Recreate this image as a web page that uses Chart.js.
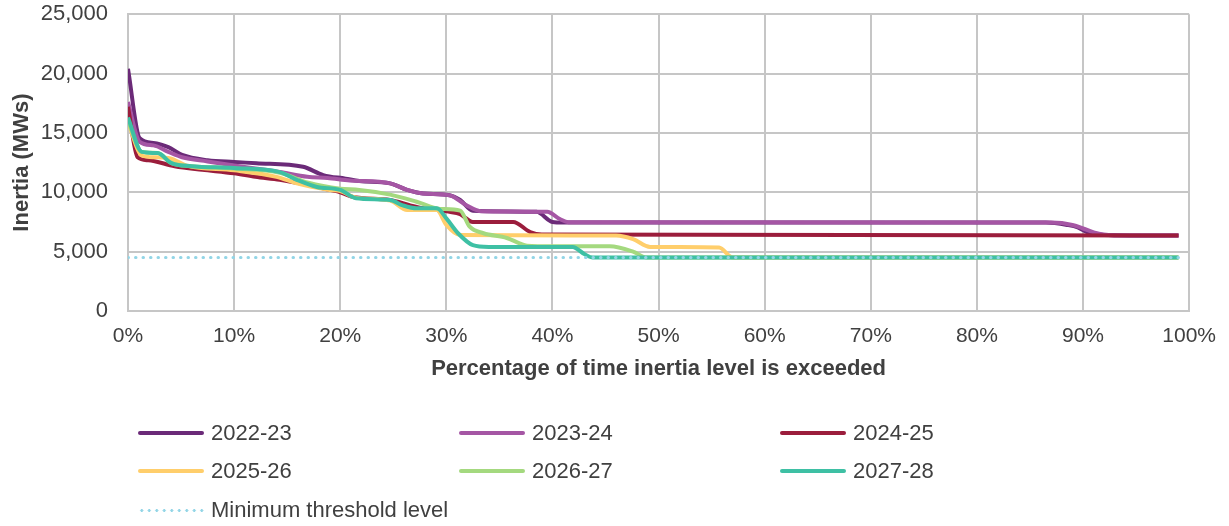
<!DOCTYPE html>
<html>
<head>
<meta charset="utf-8">
<script src="https://cdn.jsdelivr.net/npm/chart.js@4/dist/chart.umd.min.js"></script>
<style>
  body { margin: 0; background: #fff; font-family: "Liberation Sans", Arial, sans-serif; overflow: hidden; }
  #wrap { position: relative; width: 1229px; height: 526px; overflow: hidden; }
  #box { position: absolute; left: 0; top: -19px; width: 1229px; height: 401px; }
  #legend { position: absolute; left: 0; top: 0; width: 1229px; height: 526px; pointer-events: none; }
  .item { position: absolute; height: 26px; display: flex; align-items: center; color: #404040; font-size: 22px; }
  .swatch { width: 66px; height: 4px; border-radius: 2px; margin-right: 7px; }
</style>
</head>
<body>
<div id="wrap">
  <div id="box"><canvas id="inertia"></canvas></div>
  <div id="legend"></div>
</div>
<script>
// values: percentage of time (x) and inertia in MWs (y)
const pct2223 = [0, 1.1, 2.4, 3.8, 5.1, 7.5, 10, 12.1, 16.5, 18.4, 20.5, 21.8, 24.7, 26.3, 27.8, 30.3, 31.3, 32.5, 38.5, 40, 41, 86.5, 88.5, 89.5, 90.5, 92, 99];
const mws2223 = [20400, 14550, 14150, 13800, 13150, 12700, 12550, 12450, 12150, 11450, 11150, 10950, 10750, 10200, 9900, 9750, 9350, 8450, 8350, 7500, 7450, 7450, 7250, 7050, 6600, 6400, 6350];

const pct2324 = [0, 1.1, 2.4, 3.8, 5.1, 7.5, 10, 12, 14.3, 16.9, 18.8, 20.9, 24.7, 26.3, 27.8, 30.3, 31.9, 33.3, 39.5, 40.7, 41.5, 87, 89, 90, 91.5, 93.5, 99];
const mws2324 = [17600, 14250, 13950, 13400, 12950, 12600, 12250, 12000, 11700, 11300, 11200, 11000, 10750, 10200, 9900, 9750, 8900, 8400, 8350, 7750, 7480, 7450, 7250, 6950, 6500, 6350, 6350];

const pct2425 = [0, 0.9, 1.9, 4.4, 7, 10, 12, 14.3, 17, 19, 20, 21.2, 24.7, 26.6, 27.8, 30.3, 31.3, 32.5, 36.3, 37.9, 39, 99];
const mws2425 = [17200, 12950, 12700, 12200, 11900, 11600, 11300, 11050, 10600, 10200, 10000, 9600, 9350, 8900, 8650, 8350, 8150, 7500, 7500, 6650, 6450, 6350];

const pct2526 = [0, 1.3, 2.5, 4, 5.5, 10, 14, 15.9, 19, 20, 21.5, 24.7, 26.3, 29.1, 30, 31.3, 46, 47.6, 49.2, 55.7, 57, 99];
const mws2526 = [15900, 13100, 12950, 12850, 12250, 11850, 11300, 10750, 10200, 10100, 9550, 9300, 8500, 8500, 7250, 6400, 6350, 6050, 5400, 5350, 4500, 4500];

const pct2627 = [0, 1.3, 2.8, 4.1, 6, 10, 14.3, 17, 20, 21.8, 24.7, 27.2, 29.4, 31.3, 32.2, 33.5, 35.7, 36.9, 37.6, 40, 45.4, 47.6, 48.9, 99];
const mws2627 = [16000, 13400, 13300, 12450, 12200, 12000, 11650, 10800, 10300, 10200, 9800, 9200, 8600, 8450, 7100, 6550, 6150, 5700, 5500, 5450, 5450, 5000, 4500, 4500];

const pct2728 = [0, 1.3, 2.8, 4.1, 6, 10, 14.3, 15.9, 17.8, 20, 21.5, 24.7, 25.9, 27.2, 29.1, 30, 31.1, 32.5, 34, 41.9, 43, 43.8, 99];
const mws2728 = [16300, 13400, 13300, 12450, 12200, 12050, 11700, 11050, 10450, 10200, 9500, 9350, 8900, 8650, 8650, 7800, 6550, 5550, 5400, 5400, 4800, 4500, 4500];

const pctThreshold = [0, 99];
const mwsThreshold = [4500, 4500];

const seriesNames = ["2022-23", "2023-24", "2024-25", "2025-26", "2026-27", "2027-28", "Minimum threshold level"];
const seriesColors = ["#6b2a78", "#a556a4", "#9b1d3c", "#ffce6b", "#a4d97f", "#3ec0a4", "#92d5e6"];
const yTicks = [0, 5000, 10000, 15000, 20000, 25000];

const toPoints = (xs, ys) => xs.map((x, i) => ({ x: x, y: ys[i] }));

const pctLists = [pct2223, pct2324, pct2425, pct2526, pct2627, pct2728, pctThreshold];
const mwsLists = [mws2223, mws2324, mws2425, mws2526, mws2627, mws2728, mwsThreshold];

const datasets = seriesNames.map((name, i) => {
  const dotted = i === 6;
  return {
    label: name,
    data: toPoints(pctLists[i], mwsLists[i]),
    borderColor: seriesColors[i],
    backgroundColor: seriesColors[i],
    borderWidth: dotted ? 3 : 4,
    borderDash: dotted ? [0.5, 7] : [],
    borderCapStyle: dotted ? "round" : "butt",
    pointRadius: 0,
    cubicInterpolationMode: dotted ? "default" : "monotone",
    tension: 0,
    fill: false,
    // later series sit on top, the threshold on top of all
    order: dotted ? 0 : 7 - i,
  };
});

const ctx = document.getElementById("inertia").getContext("2d");
const inertiaChart = new Chart(ctx, {
  type: "line",
  data: { datasets: datasets },
  options: {
    responsive: true,
    maintainAspectRatio: false,
    animation: false,
    layout: { padding: { top: 0, right: 39, bottom: 0, left: 0 } },
    scales: {
      x: {
        type: "linear",
        min: 0,
        max: 100,
        afterFit: (scale) => { scale.height = 71; },
        ticks: {
          stepSize: 10,
          padding: 13,
          color: "#404040",
          font: { family: "'Liberation Sans', Arial", size: 21 },
          callback: (v) => v + "%",
        },
        grid: { color: "#c6c6c6", lineWidth: 2, drawTicks: false },
        border: { color: "#c6c6c6", width: 2 },
        title: {
          display: true,
          text: "Percentage of time inertia level is exceeded",
          color: "#404040",
          font: { family: "'Liberation Sans', Arial", size: 22, weight: "bold" },
          padding: { top: 0, bottom: 0 },
        },
      },
      y: {
        min: 0,
        max: 25000,
        afterFit: (scale) => { scale.width = 128; },
        afterBuildTicks: (scale) => { scale.ticks = yTicks.map((v) => ({ value: v })); },
        ticks: {
          padding: 20,
          color: "#404040",
          font: { family: "'Liberation Sans', Arial", size: 22 },
          callback: (v) => v.toLocaleString("en-US"),
        },
        grid: { color: "#c6c6c6", lineWidth: 2, drawTicks: false },
        border: { color: "#c6c6c6", width: 2 },
        title: {
          display: true,
          text: "Inertia (MWs)",
          color: "#404040",
          font: { family: "'Liberation Sans', Arial", size: 22, weight: "bold" },
          padding: { top: 9, bottom: 0 },
        },
      },
    },
    plugins: {
      legend: { display: false },
      tooltip: { enabled: false },
    },
  },
});

// Legend in three columns below the plot, built from the datasets
const legendCols = [138, 459, 780];
const legendRows = [433, 471, 510];
const legendBox = document.getElementById("legend");
datasets.forEach((ds, i) => {
  const item = document.createElement("div");
  item.className = "item";
  item.style.left = legendCols[i % 3] + "px";
  item.style.top = legendRows[Math.floor(i / 3)] - 13 + "px";
  const sw = document.createElement("div");
  sw.className = "swatch";
  if (i === 6) {
    sw.style.height = "3px";
    sw.style.backgroundImage = "radial-gradient(circle, " + ds.borderColor + " 1.3px, transparent 1.7px)";
    sw.style.backgroundSize = "7.5px 3px";
  } else {
    sw.style.background = ds.borderColor;
  }
  const label = document.createElement("span");
  label.textContent = ds.label;
  item.appendChild(sw);
  item.appendChild(label);
  legendBox.appendChild(item);
});
</script>
</body>
</html>
